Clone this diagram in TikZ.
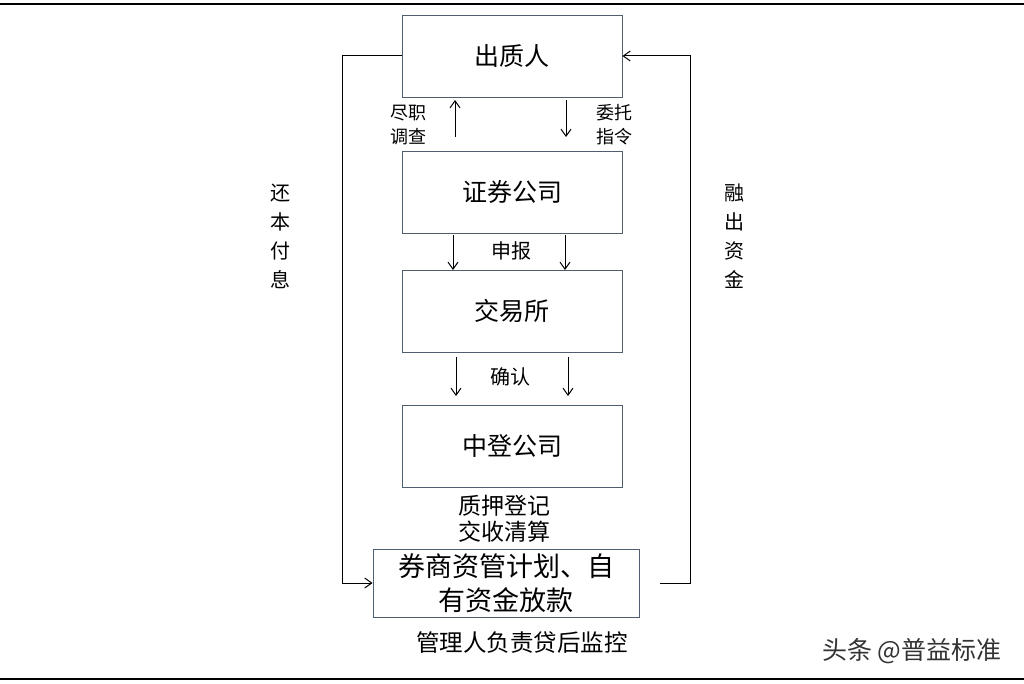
\documentclass[tikz,border=0pt]{standalone}
\usepackage{fontspec}
\setmainfont{Noto Sans CJK SC}
\usetikzlibrary{arrows.meta}
\definecolor{boxc}{HTML}{4F5F70}
\tikzset{
  box/.style={draw=boxc, line width=0.9pt, minimum width=220pt, minimum height=82pt, inner sep=0pt, font=\fontsize{25}{28}\selectfont},
  lbl/.style={inner sep=0pt, font=\fontsize{18}{24}\selectfont, align=center},
  arr/.style={-{Straight Barb[length=7pt,width=10pt]}, line width=1pt},
}
\begin{document}
\begin{tikzpicture}[x=1pt,y=-1pt]
\useasboundingbox (0,0) rectangle (1024,684);
\draw[line width=1.5pt] (0,4) -- (1024,4);
\draw[line width=1.5pt] (0,679) -- (1024,679);

\node[box] (cz) at (512,56) {出质人};
\node[box] (zq) at (512,192) {证券公司};
\node[box] (jys) at (512,311) {交易所};
\node[box] (zd) at (512,446) {中登公司};
\node[draw=boxc, line width=0.9pt, minimum width=266pt, minimum height=68pt, inner sep=0pt, align=center, font=\fontsize{27}{34}\selectfont] (fk) at (506,583) {券商资管计划、自\\有资金放款};

% top arrows
\draw[arr] (455,137) -- (455,100);
\draw[arr] (566,100) -- (566,137);
\node[lbl] (l1) at (408,125) {尽职\\调查};
\node[lbl] (l2) at (614,125) {委托\\指令};

\draw[arr] (453,235) -- (453,270);
\draw[arr] (565,235) -- (565,270);
\node[lbl, font=\fontsize{20}{24}\selectfont] (l3) at (511,251) {申报};

\draw[arr] (456,357) -- (456,396);
\draw[arr] (568,357) -- (568,396);
\node[lbl, font=\fontsize{20}{24}\selectfont] (l4) at (510,377) {确认};

\node[lbl, font=\fontsize{23}{26}\selectfont] (l5) at (504,519) {质押登记\\交收清算};
\node[lbl, font=\fontsize{23.5}{26}\selectfont] (l6) at (522,643) {管理人负责贷后监控};

% side loops
\coordinate (lc1) at (342,56);
\coordinate (lc2) at (342,583);
\draw[arr] (cz.west) -- (lc1) -- (lc2) -- (fk.west);
\coordinate (rs) at (660,583);
\coordinate (rc1) at (690,583);
\coordinate (rc2) at (690,56);
\draw[arr] (rs) -- (rc1) -- (rc2) -- (cz.east);

\node[lbl, font=\fontsize{20}{29}\selectfont] (l7) at (280,236) {还\\本\\付\\息};
\node[lbl, font=\fontsize{20}{29}\selectfont] (l8) at (734,236) {融\\出\\资\\金};

\node[inner sep=0pt, text=black!80, font=\fontsize{25}{28}\selectfont] (wm) at (912,651) {头条 @普益标准};
\end{tikzpicture}
\end{document}
